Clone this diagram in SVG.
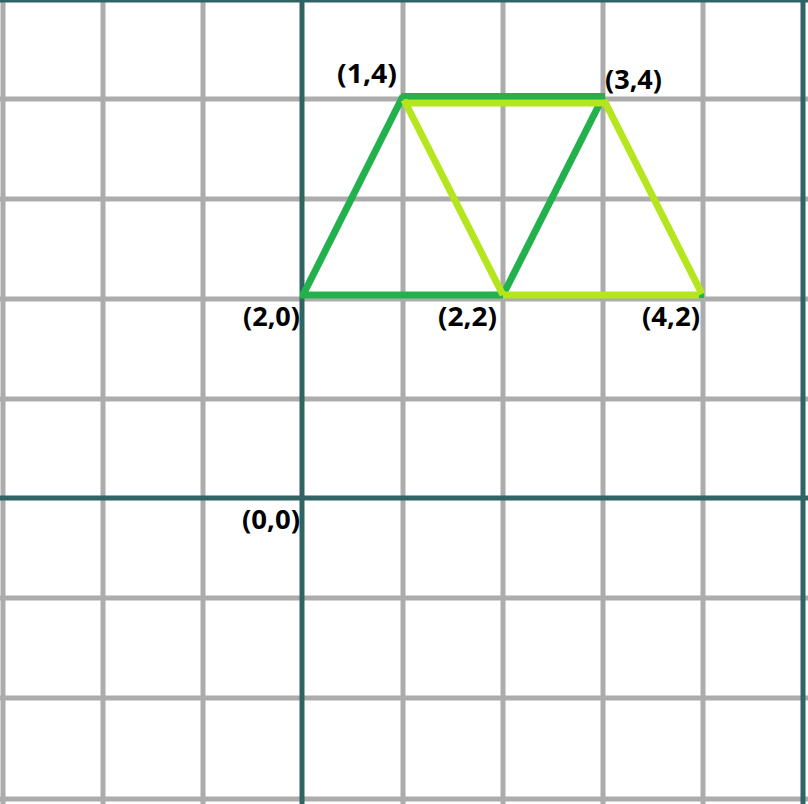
<svg xmlns="http://www.w3.org/2000/svg" width="808" height="804" viewBox="0 0 808 804">
  <style>
    .grid { stroke: #acacac; stroke-width: 5; fill: none; }
    .axis { stroke: #2f6462; stroke-width: 5; fill: none; }
    .dg { stroke: #22b14c; stroke-width: 7; fill: none; stroke-linecap: butt; }
    .lg { stroke: #b5e61d; stroke-width: 7; fill: none; stroke-linecap: butt; }
    .lbl { font-family: "Open Sans", "Liberation Sans", sans-serif; font-weight: bold; font-size: 27px; fill: #000; }
  </style>
  <rect width="808" height="804" fill="#ffffff"/>
  <g id="grid">
    <line class="grid" x1="3" y1="0" x2="3" y2="804"/>
    <line class="grid" x1="103" y1="0" x2="103" y2="804"/>
    <line class="grid" x1="203" y1="0" x2="203" y2="804"/>
    <line class="grid" x1="403" y1="0" x2="403" y2="804"/>
    <line class="grid" x1="503" y1="0" x2="503" y2="804"/>
    <line class="grid" x1="603" y1="0" x2="603" y2="804"/>
    <line class="grid" x1="703" y1="0" x2="703" y2="804"/>
    <line class="grid" x1="0" y1="99" x2="808" y2="99"/>
    <line class="grid" x1="0" y1="199" x2="808" y2="199"/>
    <line class="grid" x1="0" y1="299" x2="808" y2="299"/>
    <line class="grid" x1="0" y1="399" x2="808" y2="399"/>
    <line class="grid" x1="0" y1="598" x2="808" y2="598"/>
    <line class="grid" x1="0" y1="698" x2="808" y2="698"/>
    <line class="grid" x1="0" y1="799" x2="808" y2="799"/>
  </g>
  <g id="axes">
    <line class="axis" x1="302" y1="0" x2="302" y2="804"/>
    <line class="axis" x1="0" y1="498" x2="808" y2="498"/>
    <line class="axis" x1="0" y1="0" x2="808" y2="0" stroke-width="3"/>
    <line class="axis" x1="803" y1="0" x2="803" y2="804"/>
  </g>
  <g id="connectors">
    <line class="dg" x1="303" y1="295" x2="403" y2="96"/>
    <line class="dg" x1="401" y1="96.5" x2="605" y2="96.5"/>
    <line class="dg" x1="503" y1="295" x2="603" y2="97"/>
    <line class="dg" x1="300" y1="295" x2="503" y2="295"/>
    <rect x="699" y="292" width="5" height="6" fill="#22b14c"/>
    <line class="lg" x1="403" y1="103" x2="605" y2="103"/>
    <line class="lg" x1="404" y1="100" x2="503" y2="295"/>
    <line class="lg" x1="604" y1="100" x2="702" y2="294"/>
    <line class="lg" x1="503" y1="295" x2="699" y2="295"/>
  </g>
  <g id="label-1-4"><text class="lbl" x="397" y="83" text-anchor="end" textLength="60" lengthAdjust="spacingAndGlyphs">(1,4)</text></g>
  <g id="label-3-4"><text class="lbl" x="605" y="89" textLength="57" lengthAdjust="spacingAndGlyphs">(3,4)</text></g>
  <g id="label-2-0"><text class="lbl" x="300" y="326" text-anchor="end" textLength="57" lengthAdjust="spacingAndGlyphs">(2,0)</text></g>
  <g id="label-2-2"><text class="lbl" x="497" y="326" text-anchor="end" textLength="59" lengthAdjust="spacingAndGlyphs">(2,2)</text></g>
  <g id="label-4-2"><text class="lbl" x="700" y="326" text-anchor="end" textLength="58" lengthAdjust="spacingAndGlyphs">(4,2)</text></g>
  <g id="label-0-0"><text class="lbl" x="300" y="529" text-anchor="end" textLength="58" lengthAdjust="spacingAndGlyphs">(0,0)</text></g>
</svg>
